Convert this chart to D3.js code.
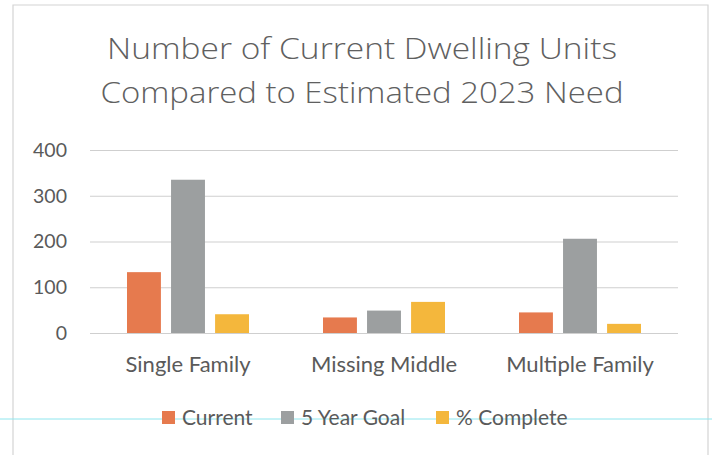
<!DOCTYPE html>
<html><head><meta charset="utf-8">
<script src="https://cdn.jsdelivr.net/npm/d3@7"></script>
<style>body{margin:0;background:#fff}svg{display:block}</style>
</head><body>
<svg id="c" width="712" height="455"></svg>
<script>
const categories = ["Single Family", "Missing Middle", "Multiple Family"];
const seriesNames = ["Current", "5 Year Goal", "% Complete"];
const current = [133, 34, 45];
const goal = [335, 49, 206];
const pctComplete = [41, 68, 20];
const yTicks = [0, 100, 200, 300, 400];
const titleLines = ["Number of Current Dwelling Units", "Compared to Estimated 2023 Need"];
const colors = ["#E67A4E", "#9C9FA0", "#F4B73C"];

const series = [current, goal, pctComplete];
const svg = d3.select("#c");
const font = "Lato, 'Open Sans', sans-serif";
const titleFont = "'Open Sans', Lato, sans-serif";
const textColor = "#5a5a5a";

// frame
svg.append("path").attr("d","M13,455 V5 H708 V455").attr("fill","none").attr("stroke","#d4d4d4").attr("stroke-width",1.2);

// title
const tl = [{t:titleLines[0], y:59, w:510, x:362},{t:titleLines[1], y:103, w:523, x:362}];
tl.forEach(d=>{
  svg.append("text").attr("x",d.x).attr("y",d.y).attr("text-anchor","middle")
    .attr("font-family",titleFont).attr("font-weight",300).attr("font-size",29).attr("fill","#606060")
    .attr("textLength",d.w).attr("lengthAdjust","spacingAndGlyphs").text(d.t);
});

const y = d3.scaleLinear().domain([0,400]).range([333,150]);
const x0 = d3.scaleBand().domain(categories).range([90,678]);
const x1 = d3.scaleBand().domain(seriesNames).range([37,159]).paddingInner(0.23);

// gridlines
const yAxis = d3.axisLeft(y).tickValues(yTicks).tickSize(-(678-90)).tickPadding(23);
const ga = svg.append("g").attr("transform","translate(90,0)").call(yAxis);
ga.select(".domain").remove();
ga.selectAll(".tick line").attr("stroke","#cfcfcf").attr("stroke-width",1.2);
ga.selectAll(".tick text").attr("font-family",font).attr("font-size",19.5).attr("fill",textColor);

// bars
const g = svg.append("g");
categories.forEach((c,i)=>{
  seriesNames.forEach((s,j)=>{
    g.append("rect").attr("x",x0(c)+x1(s)).attr("width",x1.bandwidth())
      .attr("y",y(series[j][i])).attr("height",y(0)-y(series[j][i])).attr("fill",colors[j]);
  });
});

// x axis labels
const xAxis = d3.axisBottom(x0).tickSize(0).tickPadding(0);
const gx = svg.append("g").attr("transform","translate(0,333)").call(xAxis);
gx.select(".domain").remove();
gx.selectAll(".tick text").attr("dy",null).attr("y",39).attr("font-family",font).attr("font-size",22).attr("fill",textColor);

// scan line artifact
svg.append("line").attr("x1",0).attr("x2",712).attr("y1",419).attr("y2",419).attr("stroke","#8fe6ee").attr("stroke-width",1);

// legend
const legX = [162, 281, 436];
seriesNames.forEach((s,j)=>{
  svg.append("rect").attr("x",legX[j]).attr("y",411).attr("width",13).attr("height",13).attr("fill",colors[j]);
  svg.append("text").attr("x",legX[j]+20).attr("y",425).attr("font-family",font).attr("font-size",21).attr("fill",textColor).text(s);
});
</script>
</body></html>
